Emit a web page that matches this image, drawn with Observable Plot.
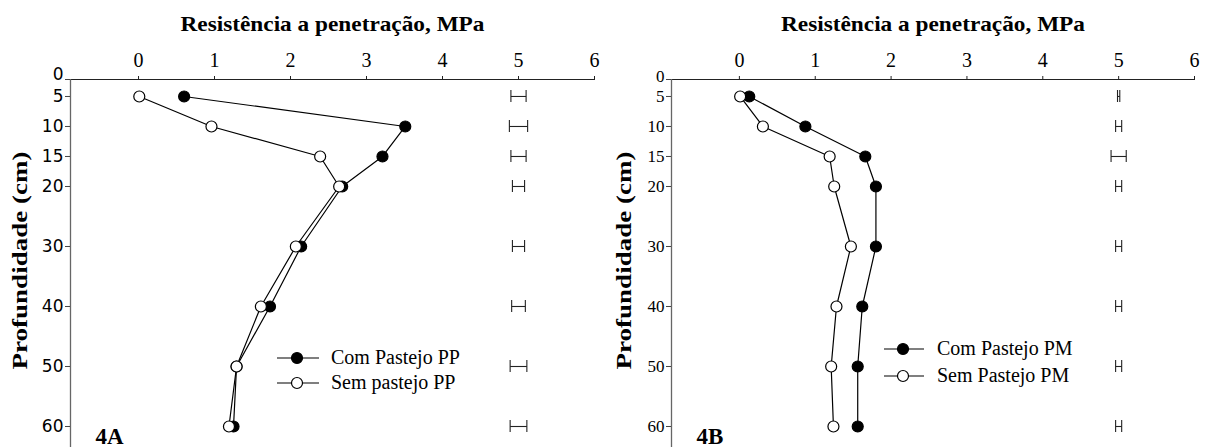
<!DOCTYPE html>
<html>
<head>
<meta charset="utf-8">
<script src="https://cdn.jsdelivr.net/npm/d3@7"></script>
<script src="https://cdn.jsdelivr.net/npm/@observablehq/plot@0.6"></script>
<style>
  html, body { margin: 0; padding: 0; background: #fff; }
  #wrap { display: flex; width: 1207px; height: 447px; overflow: hidden; }
  svg text { fill: #000; }
</style>
</head>
<body>
<div id="wrap"></div>
<script>
// ---- data ----
const depths = [5, 10, 15, 20, 30, 40, 50, 60];
const comPP = [0.60, 3.51, 3.21, 2.68, 2.14, 1.73, 1.29, 1.25];
const semPP = [0.01, 0.96, 2.39, 2.64, 2.07, 1.61, 1.29, 1.19];
const errPP = [0.10, 0.12, 0.10, 0.08, 0.08, 0.09, 0.11, 0.11];
const comPM = [0.13, 0.87, 1.66, 1.80, 1.80, 1.62, 1.56, 1.56];
const semPM = [0.01, 0.31, 1.19, 1.25, 1.47, 1.28, 1.21, 1.24];
const errPM = [0.015, 0.04, 0.10, 0.04, 0.04, 0.04, 0.04, 0.04];
const errCenter = 5;
const xTicks = [0, 1, 2, 3, 4, 5, 6];
const yTickLabels = ["0", "5", "10", "15", "20", "30", "40", "50", "60"];
const xTitle = "Resistência a penetração, MPa";
const yTitle = "Profundidade (cm)";
const legendA = ["Com Pastejo PP", "Sem pastejo PP"];
const legendB = ["Com Pastejo PM", "Sem Pastejo PM"];

const X_DOMAIN = [-0.895, 6];
const Y_DOMAIN = [2.17, 63.5];
const yTickVals = [Y_DOMAIN[0], ...depths];
const SERIF = "'Liberation Serif', 'Times New Roman', serif";
const SANS = "'DejaVu Sans', sans-serif";

function panel({width, ml, mr, com, sem, err, legend, tag, legendPos, ySans, yFontSize, yTitleDx, zeroShift}) {
  const rows = depths.map((d, i) => ({depth: d, v: com[i]}));
  const rowsSem = depths.map((d, i) => ({depth: d, v: sem[i]}));
  const errRows = depths.map((d, i) => ({depth: d, lo: errCenter - err[i], hi: errCenter + err[i]}));
  const chart = Plot.plot({
    width, height: 447,
    marginLeft: ml, marginRight: mr, marginTop: 79, marginBottom: 0,
    x: {domain: X_DOMAIN},
    y: {domain: Y_DOMAIN, reverse: true},
    marks: [
      Plot.ruleY([Y_DOMAIN[0]], {stroke: "#222", strokeWidth: 1.2}),
      Plot.ruleX([X_DOMAIN[0]], {stroke: "#666", strokeWidth: 1.3}),
      Plot.axisX({anchor: "top", ticks: xTicks, tickFormat: d => String(d), tickSize: 4, tickPadding: 9, label: null, stroke: "#222",
        fontSize: 20, className: "xticks"}),
      Plot.axisY({anchor: "left", ticks: yTickVals, tickFormat: (d, i) => yTickLabels[i], tickSize: 5, tickPadding: 2, label: null, stroke: "#444",
        fontSize: yFontSize, className: "yticks"}),
      Plot.text([xTitle], {frameAnchor: "top", dy: -64, fontWeight: "bold", fontSize: 22, className: "xtitle"}),
      Plot.text([yTitle], {frameAnchor: "left", dx: yTitleDx, dy: 0, rotate: -90, fontWeight: "bold", fontSize: 21, className: "ytitle"}),
      Plot.text([tag], {frameAnchor: "bottom-left", dx: 25, dy: -4, textAnchor: "start", lineAnchor: "bottom", fontWeight: "bold", fontSize: 23}),
      // error bars
      Plot.link(errRows, {x1: "lo", x2: "hi", y1: "depth", y2: "depth", stroke: "#222", strokeWidth: 1.1}),
      Plot.ruleX(errRows, {x: "lo", y1: d => d.depth - 1, y2: d => d.depth + 1, stroke: "#222", strokeWidth: 1.1}),
      Plot.ruleX(errRows, {x: "hi", y1: d => d.depth - 1, y2: d => d.depth + 1, stroke: "#222", strokeWidth: 1.1}),
      // series
      Plot.line(rows, {x: "v", y: "depth", stroke: "#000", strokeWidth: 1.2}),
      Plot.line(rowsSem, {x: "v", y: "depth", stroke: "#000", strokeWidth: 1.2}),
      Plot.dot(rows, {x: "v", y: "depth", r: 5.5, fill: "#000", stroke: "#000", strokeWidth: 1.2}),
      Plot.dot(rowsSem, {x: "v", y: "depth", r: 5.5, fill: "#fff", stroke: "#000", strokeWidth: 1.2})
    ]
  });
  const svg = d3.select(chart);
  // legend
  const g = svg.append("g");
  const {x0, x1, xm, xt, ys} = legendPos;
  legend.forEach((name, i) => {
    const y = ys[i];
    g.append("line").attr("x1", x0).attr("x2", x1).attr("y1", y).attr("y2", y).attr("stroke", "#000").attr("stroke-width", 1.2);
    g.append("circle").attr("cx", xm).attr("cy", y).attr("r", 5.5).attr("fill", i === 0 ? "#000" : "#fff").attr("stroke", "#000").attr("stroke-width", 1.2);
    g.append("text").attr("x", xt).attr("y", y).attr("dy", "0.32em").attr("text-anchor", "start")
      .style("font-size", "20px").text(name);
  });
  // fonts: serif everywhere, inline so nothing overrides it
  svg.selectAll("text").style("font-family", SERIF);
  if (ySans) svg.selectAll(".yticks text").style("font-family", SANS);
  // the "0" label sits a little above the top axis line, as in the reference
  svg.selectAll(".yticks text").filter((d, i) => i === 0).each(function() {
    const t = this.getAttribute("transform") || "";
    this.setAttribute("transform", t + ` translate(0,${-zeroShift})`);
  });
  // stretch titles horizontally to match the reference's wide lettering
  svg.selectAll(".xtitle text").attr("textLength", 304).attr("lengthAdjust", "spacingAndGlyphs");
  // y title: start-anchored so its stretched length runs from depth ~63 up to ~2
  svg.selectAll(".ytitle text").attr("text-anchor", "start").attr("x", -106)
    .attr("textLength", 218).attr("lengthAdjust", "spacingAndGlyphs");
  return chart;
}

const wrap = document.getElementById("wrap");
wrap.appendChild(panel({width: 604, ml: 70, mr: 10, com: comPP, sem: semPP, err: errPP, legend: legendA, tag: "4A",
  ySans: true, yFontSize: 17, yTitleDx: -50, zeroShift: 5,
  legendPos: {x0: 277, x1: 319, xm: 297, xt: 331, ys: [358, 383]}}));
wrap.appendChild(panel({width: 603, ml: 67, mr: 13, com: comPM, sem: semPM, err: errPM, legend: legendB, tag: "4B",
  ySans: false, yFontSize: 17, yTitleDx: -47, zeroShift: 3,
  legendPos: {x0: 280, x1: 320, xm: 299, xt: 333, ys: [349, 376]}}));
</script>
</body>
</html>
